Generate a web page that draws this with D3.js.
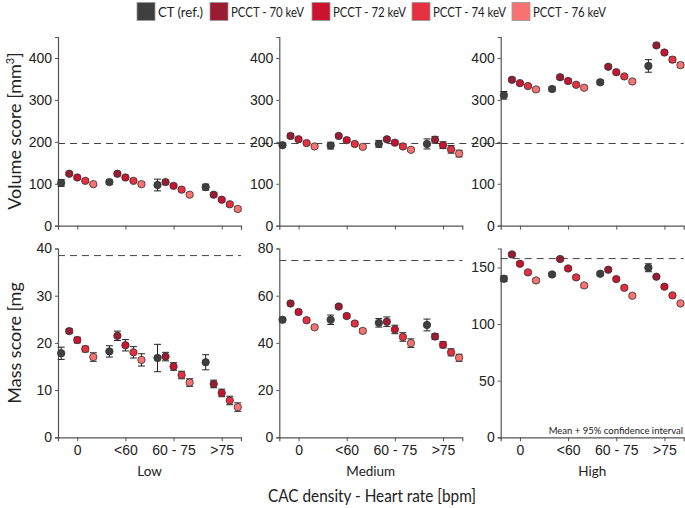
<!DOCTYPE html>
<html><head><meta charset="utf-8">
<script src="https://cdn.jsdelivr.net/npm/d3@7"></script>
<style>body{margin:0;background:#fff}svg{display:block;font-family:Lato,sans-serif}</style>
</head><body><svg id="c" width="685" height="508"></svg>
<script>
const seriesNames = ["CT (ref.)","PCCT - 70 keV","PCCT - 72 keV","PCCT - 74 keV","PCCT - 76 keV"];
const seriesColors = ["#3f3f3f","#9a1b32","#c9132f","#e5303f","#f87272"];
const heartRates = ["0","<60","60 - 75",">75"];
const densities = ["Low","Medium","High"];
const volumeTicks = [0,100,200,300,400];
const massTicks = [[0,10,20,30,40],[0,20,40,60,80],[0,50,100,150]];
const volumeMax = 450;
const massMax = [40,80,166.7];
const volumeRef = [196,196,196];
const massRef = [38.5,74.9,157.8];
// volume values [density][series][heartRate]
const volumeMean = [
 [[102,104,97,92],[124,124,104,74],[115,115,95,62],[107,107,86,51],[99,99,74,40]],
 [[192,191,195,195],[214,214,206,205],[206,204,198,192],[197,195,189,182],[189,188,181,172]],
 [[311,326,342,381],[348,354,379,430],[340,345,366,413],[333,336,356,396],[325,329,344,383]]
];
const volumeErr = [
 [[8,5,14,7],[4,5,5,5],[4,4,4,4],[4,4,4,4],[4,5,4,5]],
 [[5,8,8,12],[5,4,4,8],[4,4,4,8],[4,4,4,9],[4,4,4,8]],
 [[9,5,5,15],[4,5,4,5],[4,5,4,5],[4,4,4,6],[4,4,4,6]]
];
const massMean = [
 [[17.8,18.2,16.8,15.9],[22.5,21.5,17.1,11.3],[20.6,19.5,15.0,9.4],[18.7,18.0,13.2,7.8],[17.0,16.4,11.6,6.4]],
 [[49.8,49.8,48.5,47.6],[56.7,55.4,49.0,42.7],[53.1,51.4,45.7,39.2],[49.6,48.2,42.5,36.0],[46.6,45.1,39.9,33.7]],
 [[140,143.8,144.4,149.7],[161.5,157.4,148,141.8],[153.2,149.1,139.7,133],[145.6,141.2,132,125.3],[138.5,134.1,125,118.2]]
];
const massErr = [
 [[1.3,1.2,2.9,1.6],[0.5,1.0,0.9,0.8],[0.6,1.2,0.8,0.8],[0.6,1.2,0.8,0.9],[0.9,1.3,0.8,0.9]],
 [[0.8,2.0,1.8,2.5],[0.9,0.8,2.0,1.2],[0.8,0.8,1.8,1.3],[0.8,0.9,1.8,1.5],[0.8,0.9,1.8,1.5]],
 [[2.5,1.5,1.5,3.5],[1.5,1.5,1.5,1.5],[1.5,1.5,1.5,1.5],[1.5,1.5,1.5,1.5],[1.5,1.5,1.5,1.5]]
];
const offsets = [-2,-1,0,1,2];

const svg = d3.select("#c");
const panelX = [58,279.3,500.7];
const panelW = 183;
const rows = [{top:37,bottom:225.7},{top:248.5,bottom:437.3}];
const axisColor = "#555";

// legend
const legendX = [137,210,312,412,512];
seriesNames.forEach((n,i)=>{
  svg.append("rect").attr("x",legendX[i]).attr("y",2.5).attr("width",18).attr("height",18)
    .attr("fill",seriesColors[i]).attr("stroke","#999").attr("stroke-width",0.8);
  svg.append("text").attr("x",legendX[i]+21).attr("y",16.5).attr("font-size",13.5).attr("fill","#222")
    .attr("textLength",i===0?45:73).attr("lengthAdjust","spacingAndGlyphs").text(n);
});

densities.forEach((dens,d)=>{
  const x = d3.scaleLinear().domain([-0.4,3.4]).range([panelX[d],panelX[d]+panelW]);
  const step = x(1)-x(0);
  const dx = step/6;
  [0,1].forEach(r=>{
    const isVol = r===0;
    const y = d3.scaleLinear().domain([0,isVol?volumeMax:massMax[d]]).range([rows[r].bottom,rows[r].top]);
    const g = svg.append("g");
    const refV = isVol ? volumeRef[d] : massRef[d];
    g.append("line").attr("x1",x(-0.4)).attr("x2",isVol && d<2 ? panelX[d+1] : x(3.4))
      .attr("y1",y(refV)).attr("y2",y(refV)).attr("stroke","#444").attr("stroke-width",1).attr("stroke-dasharray","7,5");
    const ya = g.append("g").attr("transform",`translate(${panelX[d]},0)`)
      .call(d3.axisLeft(y).tickValues(isVol?volumeTicks:massTicks[d]).tickSize(3).tickPadding(3));
    ya.selectAll("text").attr("font-size",14).attr("fill","#222");
    const xa = g.append("g").attr("transform",`translate(0,${rows[r].bottom})`)
      .call(d3.axisBottom(x).tickValues([0,1,2,3]).tickSize(4).tickPadding(4).tickFormat(i=>isVol?"":heartRates[i]));
    xa.selectAll("text").attr("font-size",14).attr("fill","#222");
    [ya,xa].forEach(a=>{a.selectAll("path,line").attr("stroke",axisColor);a.select(".domain").attr("stroke-width",1.2);});
    const mean = isVol?volumeMean[d]:massMean[d];
    const err = isVol?volumeErr[d]:massErr[d];
    seriesNames.forEach((s,si)=>{
      heartRates.forEach((h,hi)=>{
        const cx = x(hi)+offsets[si]*dx;
        const m = mean[si][hi], e = err[si][hi];
        const eg = g.append("g").attr("stroke","#222").attr("stroke-width",1);
        eg.append("line").attr("x1",cx).attr("x2",cx).attr("y1",y(m-e)).attr("y2",y(m+e));
        eg.append("line").attr("x1",cx-3.5).attr("x2",cx+3.5).attr("y1",y(m-e)).attr("y2",y(m-e));
        eg.append("line").attr("x1",cx-3.5).attr("x2",cx+3.5).attr("y1",y(m+e)).attr("y2",y(m+e));
        g.append("circle").attr("cx",cx).attr("cy",y(m)).attr("r",3.7)
          .attr("fill",seriesColors[si]).attr("stroke","#333").attr("stroke-width",0.8);
      });
    });
  });
  svg.append("text").attr("x",x(1.5)).attr("y",476).attr("text-anchor","middle").attr("font-size",13.5).attr("fill","#222").text(dens);
});

svg.append("text").attr("transform","translate(21,131) rotate(-90)").attr("text-anchor","middle").attr("font-size",18).attr("fill","#222")
  .html('Volume score [mm<tspan dy="-7" font-size="11">3</tspan><tspan dy="7">]</tspan>');
svg.append("text").attr("transform","translate(21,343) rotate(-90)").attr("text-anchor","middle").attr("font-size",18).attr("fill","#222").text("Mass score [mg");
svg.append("text").attr("x",372).attr("y",502).attr("text-anchor","middle").attr("font-size",17.5).attr("fill","#222")
  .attr("textLength",208).attr("lengthAdjust","spacingAndGlyphs").text("CAC density - Heart rate [bpm]");
svg.append("text").attr("x",683).attr("y",434).attr("text-anchor","end").attr("font-size",9.5).attr("fill","#222").text("Mean + 95% confidence interval");
</script></body></html>
